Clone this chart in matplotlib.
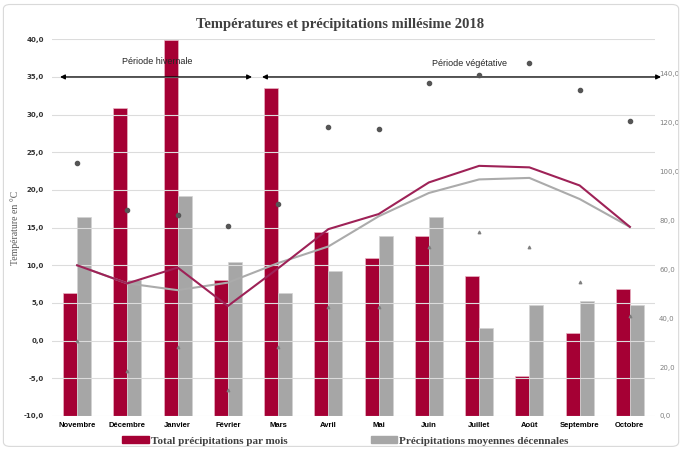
import matplotlib.pyplot as plt
import numpy as np
from matplotlib.patches import Patch, FancyBboxPatch
from matplotlib.ticker import FuncFormatter

# ---- données ----
mois = ["Novembre", "Décembre", "Janvier", "Février", "Mars", "Avril",
        "Mai", "Juin", "Juillet", "Août", "Septembre", "Octobre"]
precip_2018 = [50.2, 125.8, 153.6, 55.6, 134.0, 75.4, 64.5, 73.6, 57.3, 16.4, 34.1, 51.8]
precip_moy = [81.3, 55.6, 90.1, 62.9, 50.2, 59.4, 73.6, 81.3, 36.1, 45.4, 47.0, 45.4]
temp_2018 = [10.0, 7.6, 9.7, 4.6, 9.6, 14.8, 16.8, 21.0, 23.2, 23.0, 20.6, 15.1]
temp_moy = [10.0, 7.6, 6.7, 7.7, 10.3, 12.5, 16.5, 19.6, 21.4, 21.6, 18.8, 15.1]
temp_max = [23.6, 17.3, 16.7, 15.2, 18.1, 28.4, 28.1, 34.2, 35.3, 36.8, 33.3, 29.1]
temp_min = [0.0, -4.0, -0.9, -6.5, -0.9, 4.5, 4.5, 12.4, 14.4, 12.4, 7.8, 3.3]

ROUGE = "#A50034"
GRIS = "#A6A6A6"
virgule = FuncFormatter(lambda v, p: f"{v:.1f}".replace(".", ","))

fig = plt.figure(figsize=(6.8, 4.5), dpi=100)
ax = fig.add_axes([0.0765, 0.0756, 0.8867, 0.8371])
ax2 = ax.twinx()

x = np.arange(len(mois))
w = 0.28
ax2.bar(x - w / 2, precip_2018, w, color=ROUGE, edgecolor="#E9B3C3", linewidth=0.5)
ax2.bar(x + w / 2, precip_moy, w, color=GRIS, edgecolor="#D3D3D3", linewidth=0.5)
ax2.set_ylim(0, 154)
ax2.set_yticks(range(0, 141, 20))
ax2.yaxis.set_major_formatter(virgule)
ax2.tick_params(axis="y", length=0, pad=3, labelsize=5, labelcolor="#7F7F7F")

# températures au-dessus des barres
ax.set_zorder(ax2.get_zorder() + 1)
ax.patch.set_visible(False)
ax.set_ylim(-10, 40)
ax.set_xlim(-0.5, 11.5)
ax.set_yticks(range(-10, 41, 5))
ax.yaxis.set_major_formatter(virgule)
ax.yaxis.grid(True, color="#DCDCDC", lw=0.8)
ax.set_axisbelow(True)
ax.plot(x, temp_moy, color="#ABABAB", lw=1.5)
ax.plot(x, temp_2018, color="#9E2257", lw=1.5)
ax.scatter(x, temp_max, s=9, color="#555555", zorder=4)
ax.scatter(x, temp_min, s=3, marker="^", color="#7F7F7F", zorder=4)

ax.set_xticks(x)
ax.set_xticklabels(mois, fontfamily="Liberation Sans", fontweight="bold", fontsize=5.5)
ax.tick_params(axis="x", length=0, pad=4)
ax.tick_params(axis="y", length=0, pad=6, labelsize=5, labelcolor="#333333")
for lab in ax.get_yticklabels():
    lab.set_fontweight("bold")

for a in (ax, ax2):
    for s in a.spines.values():
        s.set_visible(False)

ax.set_ylabel("Température en °C", fontfamily="Liberation Serif", fontsize=7,
              color="#595959")
ax.yaxis.set_label_coords(-0.053, 0.5)

# périodes
fleche = dict(arrowstyle="<|-|>", color="black", lw=0.9, mutation_scale=7,
              shrinkA=0, shrinkB=0)
ax.annotate("", xy=(-0.34, 35), xytext=(3.48, 35), arrowprops=fleche, annotation_clip=False)
ax.annotate("", xy=(3.68, 35), xytext=(11.62, 35), arrowprops=fleche, annotation_clip=False)
ax.text(1.6, 37.0, "Période hivernale", ha="center", va="center", fontsize=6.5,
        fontfamily="Liberation Sans", color="#262626")
ax.text(7.8, 36.8, "Période végétative", ha="center", va="center", fontsize=6.5,
        fontfamily="Liberation Sans", color="#262626")

fig.suptitle("Températures et précipitations millésime 2018", y=0.96,
             fontfamily="Liberation Serif", fontweight="bold", fontsize=10.5, color="#404040")

handles = [Patch(color=ROUGE), Patch(color=GRIS)]
fig.legend(handles, ["Total précipitations par mois", "Précipitations moyennes décennales"],
           loc="center", bbox_to_anchor=(0.508, 0.02), ncol=2, frameon=False,
           prop=dict(family="Liberation Serif", weight="bold", size=8),
           labelcolor="#404040", handlelength=2.4, handleheight=0.55,
           handletextpad=0.15, columnspacing=7.5)

fig.patches.append(FancyBboxPatch((0.005, 0.008), 0.993, 0.982, transform=fig.transFigure,
                                  boxstyle="round,pad=0,rounding_size=0.01",
                                  fc="none", ec="#D9D9D9", lw=0.8))

fig.savefig("out.png", dpi=100)
